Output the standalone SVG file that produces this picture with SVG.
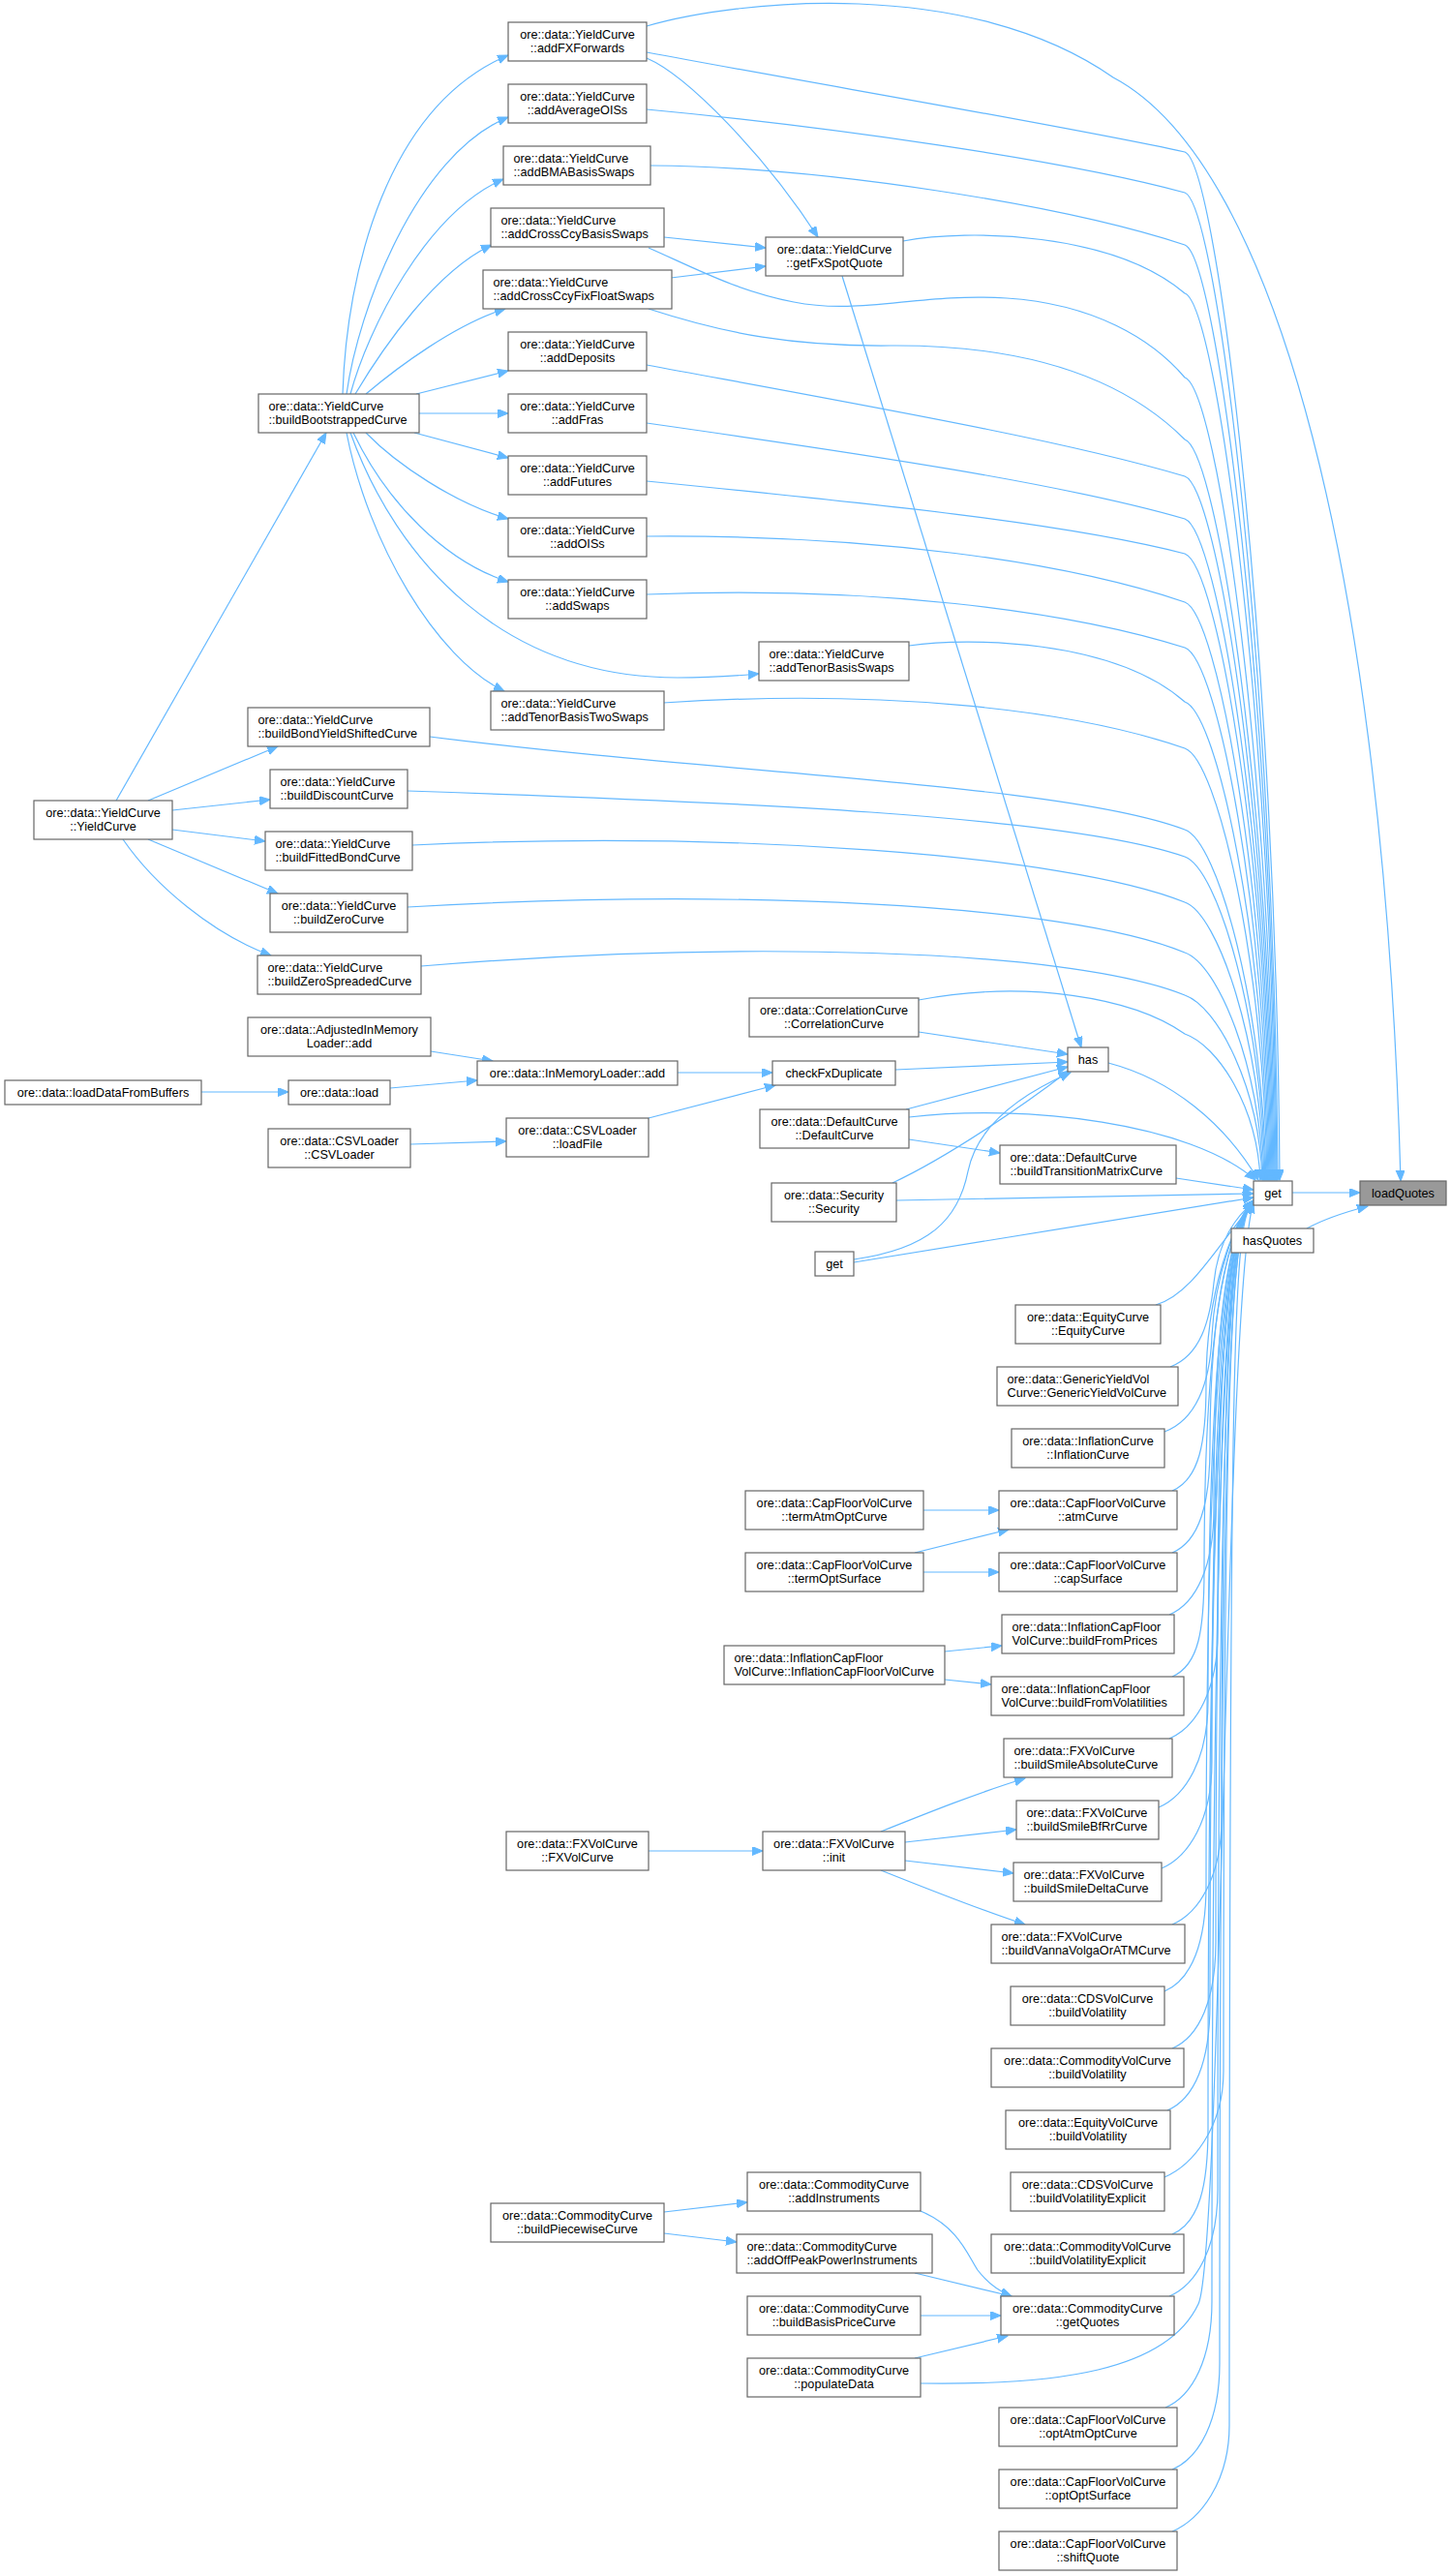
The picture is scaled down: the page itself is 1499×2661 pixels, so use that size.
<svg xmlns="http://www.w3.org/2000/svg" width="1499" height="2661" viewBox="0 0 1499 2661">
<defs>
<marker id="ah" markerUnits="userSpaceOnUse" markerWidth="12" markerHeight="10" refX="11" refY="4.5" orient="auto"><path d="M0,0L11,4.5L0,9z" fill="#63b8ff" stroke="#63b8ff" stroke-width="1"/></marker>
</defs>
<style>
.node rect{fill:#fff;stroke:#666;stroke-width:1.2}
#n_loadQuotes rect{fill:#999}
text{font-family:"Liberation Sans",Arial,Helvetica,sans-serif;font-size:12.7px;fill:#000}
.c text{text-anchor:middle}
.l text{text-anchor:start}
#edges path{fill:none;stroke:#63b8ff;stroke-width:1.2;marker-end:url(#ah)}
</style>
<rect x="0" y="0" width="1499" height="2661" fill="#fff"/>
<g id="edges">
<path d="M120 827L337 447"/>
<path d="M153 827L287 771"/>
<path d="M178 837L279 826"/>
<path d="M178 857L274 869"/>
<path d="M153 867L287 923"/>
<path d="M127 867C160 915 220 965 280 987"/>
<path d="M354 407C358 280 400 110 525 57"/>
<path d="M358 407C370 320 430 160 525 121"/>
<path d="M362 407C380 340 440 220 520 185"/>
<path d="M367 407C395 360 450 280 508 253"/>
<path d="M378 407C410 380 470 335 522 319"/>
<path d="M430 407L525 383"/>
<path d="M433 427L525 427"/>
<path d="M428 447L525 473"/>
<path d="M378 447C410 480 470 520 525 536"/>
<path d="M365 447C400 520 460 580 525 601"/>
<path d="M362 447C410 580 520 700 700 700C740 700 760 698 784 696"/>
<path d="M358 447C380 560 450 680 521 714"/>
<path d="M668 60C710 78 790 160 845 245"/>
<path d="M686 245L791 256"/>
<path d="M693 287L791 275"/>
<path d="M870 285L1117 1082"/>
<path d="M668 27C760 0 1000 -25 1150 80C1320 170 1430 600 1447 1220"/>
<path d="M668 54C850 88 1100 130 1224 157C1258 169 1319 688 1322 1219"/>
<path d="M668 113C850 130 1100 165 1224 199C1258 211 1317 709 1320 1219"/>
<path d="M672 171C850 172 1100 212 1224 253C1258 265 1316 736 1319 1219"/>
<path d="M933 249C1000 236 1150 240 1224 303C1258 315 1315 761 1318 1219"/>
<path d="M670 256C720 278 760 300 820 312C890 326 950 302 1040 308C1130 314 1190 350 1224 390C1258 402 1314 804 1317 1219"/>
<path d="M670 319C750 345 820 358 920 357C1060 356 1160 390 1224 454C1258 466 1313 836 1316 1219"/>
<path d="M668 377C900 420 1100 455 1224 492C1258 504 1312 855 1315 1219"/>
<path d="M668 437C900 470 1100 500 1224 536C1258 548 1311 877 1314 1219"/>
<path d="M668 497C900 520 1100 540 1224 572C1258 584 1310 895 1313 1219"/>
<path d="M668 554C900 552 1100 580 1224 622C1258 634 1309 920 1312 1219"/>
<path d="M668 614C900 605 1100 630 1224 669C1258 681 1308 944 1311 1219"/>
<path d="M939 667C1000 658 1150 660 1224 725C1258 737 1307 972 1310 1219"/>
<path d="M685 726C900 712 1100 730 1224 773C1258 785 1306 996 1309 1219"/>
<path d="M444 761C750 800 1100 810 1224 857C1258 869 1305 1038 1308 1219"/>
<path d="M421 817C750 828 1100 842 1224 885C1258 897 1304 1052 1307 1219"/>
<path d="M426 873C750 858 1100 882 1224 932C1258 944 1303 1075 1306 1219"/>
<path d="M421 937C750 918 1100 932 1224 984C1258 996 1302 1101 1305 1219"/>
<path d="M435 998C750 972 1100 978 1224 1028C1258 1040 1301 1123 1304 1219"/>
<path d="M949 1033C1060 1012 1170 1030 1224 1068C1258 1080 1299 1143 1302 1219"/>
<path d="M445 1086L509 1096"/>
<path d="M403 1124L493 1116"/>
<path d="M208 1128L298 1128"/>
<path d="M424 1182L523 1179"/>
<path d="M700 1108L798 1108"/>
<path d="M670 1155L801 1121"/>
<path d="M949 1066L1103 1089"/>
<path d="M925 1105L1103 1097"/>
<path d="M936 1146L1103 1102"/>
<path d="M922 1222C980 1195 1060 1140 1104 1106"/>
<path d="M882 1301C960 1290 990 1260 1000 1210C1010 1160 1060 1128 1106 1108"/>
<path d="M939 1177L1033 1191"/>
<path d="M1215 1217L1295 1229"/>
<path d="M926 1240L1295 1233"/>
<path d="M882 1304L1295 1237"/>
<path d="M1145 1098C1210 1115 1265 1160 1300 1219"/>
<path d="M939 1154C1060 1140 1230 1160 1297 1219"/>
<path d="M1335 1232L1405 1232"/>
<path d="M1350 1269C1370 1258 1390 1252 1413 1246"/>
<path d="M1194 1348C1230 1338 1255 1290 1295 1243"/>
<path d="M1209 1412C1240 1400 1250 1365 1254 1325C1258 1285 1275 1258 1295 1242"/>
<path d="M1203 1479C1235 1467 1250 1430 1252 1380C1255 1320 1275 1262 1295 1241"/>
<path d="M1211 1540C1239 1528 1246 1490 1246 1430C1246 1330 1275 1262 1295 1240"/>
<path d="M1211 1604C1239 1592 1250 1554 1250 1494C1250 1330 1275 1262 1295 1241"/>
<path d="M1208 1668C1236 1656 1254 1618 1254 1558C1254 1330 1275 1262 1295 1242"/>
<path d="M1211 1732C1239 1720 1244 1682 1244 1622C1244 1330 1275 1262 1295 1240"/>
<path d="M1208 1796C1236 1784 1258 1746 1258 1686C1258 1330 1275 1262 1295 1241"/>
<path d="M1197 1867C1225 1855 1248 1817 1248 1757C1248 1330 1275 1262 1295 1242"/>
<path d="M1200 1930C1228 1918 1252 1880 1252 1820C1252 1330 1275 1262 1295 1240"/>
<path d="M1211 1988C1239 1976 1262 1938 1262 1878C1262 1330 1275 1262 1295 1241"/>
<path d="M1203 2057C1231 2045 1246 2007 1246 1947C1246 1330 1275 1262 1295 1242"/>
<path d="M1211 2116C1239 2104 1256 2066 1256 2006C1256 1330 1275 1262 1295 1240"/>
<path d="M1206 2180C1234 2168 1250 2130 1250 2070C1250 1330 1275 1262 1295 1241"/>
<path d="M1203 2249C1231 2237 1264 2199 1264 2139C1264 1330 1275 1262 1295 1242"/>
<path d="M1211 2308C1239 2296 1248 2258 1248 2198C1248 1330 1275 1262 1295 1240"/>
<path d="M1208 2372C1236 2360 1258 2322 1258 2262C1258 1330 1275 1262 1295 1241"/>
<path d="M951 2462C1090 2464 1205 2450 1238 2380C1262 2330 1266 1330 1295 1242"/>
<path d="M1204 2487C1232 2475 1252 2437 1252 2377C1252 1330 1275 1262 1295 1240"/>
<path d="M1211 2551C1239 2539 1260 2501 1260 2441C1260 1330 1275 1262 1295 1241"/>
<path d="M1211 2615C1239 2603 1270 2565 1270 2505C1270 1330 1275 1262 1295 1242"/>
<path d="M954 1560L1032 1560"/>
<path d="M945 1604L1042 1580"/>
<path d="M954 1624L1032 1624"/>
<path d="M976 1706L1035 1700"/>
<path d="M976 1735L1024 1740"/>
<path d="M670 1912L788 1912"/>
<path d="M910 1892C960 1872 1010 1852 1059 1837"/>
<path d="M935 1903L1050 1890"/>
<path d="M935 1922L1047 1935"/>
<path d="M910 1932C960 1952 1010 1972 1059 1988"/>
<path d="M686 2285L772 2275"/>
<path d="M686 2307L761 2316"/>
<path d="M951 2284C990 2300 1000 2330 1010 2345C1020 2358 1030 2366 1045 2372"/>
<path d="M945 2348L1045 2372"/>
<path d="M951 2392L1034 2392"/>
<path d="M945 2436L1041 2413"/>
</g>
<g id="n_addFXForwards" class="node c"><rect x="525" y="23" width="143" height="40"/><text x="596.5" y="39.8">ore::data::YieldCurve</text><text x="596.5" y="54.2">::addFXForwards</text></g>
<g id="n_addAverageOISs" class="node c"><rect x="525" y="87" width="143" height="40"/><text x="596.5" y="103.8">ore::data::YieldCurve</text><text x="596.5" y="118.2">::addAverageOISs</text></g>
<g id="n_addBMABasisSwaps" class="node l"><rect x="520" y="151" width="152" height="40"/><text x="530.5" y="167.8">ore::data::YieldCurve</text><text x="530.5" y="182.2">::addBMABasisSwaps</text></g>
<g id="n_addCrossCcyBasisSwaps" class="node l"><rect x="507" y="215" width="179" height="40"/><text x="517.5" y="231.8">ore::data::YieldCurve</text><text x="517.5" y="246.2">::addCrossCcyBasisSwaps</text></g>
<g id="n_addCrossCcyFixFloatSwaps" class="node l"><rect x="499" y="279" width="195" height="40"/><text x="509.5" y="295.8">ore::data::YieldCurve</text><text x="509.5" y="310.2">::addCrossCcyFixFloatSwaps</text></g>
<g id="n_addDeposits" class="node c"><rect x="525" y="343" width="143" height="40"/><text x="596.5" y="359.8">ore::data::YieldCurve</text><text x="596.5" y="374.2">::addDeposits</text></g>
<g id="n_addFras" class="node c"><rect x="525" y="407" width="143" height="40"/><text x="596.5" y="423.8">ore::data::YieldCurve</text><text x="596.5" y="438.2">::addFras</text></g>
<g id="n_addFutures" class="node c"><rect x="525" y="471" width="143" height="40"/><text x="596.5" y="487.8">ore::data::YieldCurve</text><text x="596.5" y="502.2">::addFutures</text></g>
<g id="n_addOISs" class="node c"><rect x="525" y="535" width="143" height="40"/><text x="596.5" y="551.8">ore::data::YieldCurve</text><text x="596.5" y="566.2">::addOISs</text></g>
<g id="n_addSwaps" class="node c"><rect x="525" y="599" width="143" height="40"/><text x="596.5" y="615.8">ore::data::YieldCurve</text><text x="596.5" y="630.2">::addSwaps</text></g>
<g id="n_addTenorBasisTwoSwaps" class="node l"><rect x="507" y="714" width="179" height="40"/><text x="517.5" y="730.8">ore::data::YieldCurve</text><text x="517.5" y="745.2">::addTenorBasisTwoSwaps</text></g>
<g id="n_buildBootstrappedCurve" class="node l"><rect x="267" y="407" width="166" height="40"/><text x="277.5" y="423.8">ore::data::YieldCurve</text><text x="277.5" y="438.2">::buildBootstrappedCurve</text></g>
<g id="n_getFxSpotQuote" class="node c"><rect x="791" y="245" width="142" height="40"/><text x="862" y="261.8">ore::data::YieldCurve</text><text x="862" y="276.2">::getFxSpotQuote</text></g>
<g id="n_addTenorBasisSwaps" class="node l"><rect x="784" y="663" width="155" height="40"/><text x="794.5" y="679.8">ore::data::YieldCurve</text><text x="794.5" y="694.2">::addTenorBasisSwaps</text></g>
<g id="n_buildBondYieldShiftedCurve" class="node l"><rect x="256" y="731" width="188" height="40"/><text x="266.5" y="747.8">ore::data::YieldCurve</text><text x="266.5" y="762.2">::buildBondYieldShiftedCurve</text></g>
<g id="n_buildDiscountCurve" class="node l"><rect x="279" y="795" width="142" height="40"/><text x="289.5" y="811.8">ore::data::YieldCurve</text><text x="289.5" y="826.2">::buildDiscountCurve</text></g>
<g id="n_YieldCurve" class="node c"><rect x="35" y="827" width="143" height="40"/><text x="106.5" y="843.8">ore::data::YieldCurve</text><text x="106.5" y="858.2">::YieldCurve</text></g>
<g id="n_buildFittedBondCurve" class="node l"><rect x="274" y="859" width="152" height="40"/><text x="284.5" y="875.8">ore::data::YieldCurve</text><text x="284.5" y="890.2">::buildFittedBondCurve</text></g>
<g id="n_buildZeroCurve" class="node c"><rect x="279" y="923" width="142" height="40"/><text x="350" y="939.8">ore::data::YieldCurve</text><text x="350" y="954.2">::buildZeroCurve</text></g>
<g id="n_buildZeroSpreadedCurve" class="node l"><rect x="266" y="987" width="169" height="40"/><text x="276.5" y="1003.8">ore::data::YieldCurve</text><text x="276.5" y="1018.2">::buildZeroSpreadedCurve</text></g>
<g id="n_AdjustedInMemoryLoader" class="node c"><rect x="256" y="1051" width="189" height="40"/><text x="350.5" y="1067.8">ore::data::AdjustedInMemory</text><text x="350.5" y="1082.2">Loader::add</text></g>
<g id="n_InMemoryLoader" class="node c"><rect x="493" y="1096" width="207" height="25"/><text x="596.5" y="1113">ore::data::InMemoryLoader::add</text></g>
<g id="n_loadDataFromBuffers" class="node c"><rect x="5" y="1116" width="203" height="25"/><text x="106.5" y="1133">ore::data::loadDataFromBuffers</text></g>
<g id="n_load" class="node c"><rect x="298" y="1116" width="105" height="25"/><text x="350.5" y="1133">ore::data::load</text></g>
<g id="n_CSVLoader" class="node c"><rect x="277" y="1166" width="147" height="40"/><text x="350.5" y="1182.8">ore::data::CSVLoader</text><text x="350.5" y="1197.2">::CSVLoader</text></g>
<g id="n_loadFile" class="node c"><rect x="523" y="1155" width="147" height="40"/><text x="596.5" y="1171.8">ore::data::CSVLoader</text><text x="596.5" y="1186.2">::loadFile</text></g>
<g id="n_CorrelationCurve" class="node c"><rect x="774" y="1031" width="175" height="40"/><text x="861.5" y="1047.8">ore::data::CorrelationCurve</text><text x="861.5" y="1062.2">::CorrelationCurve</text></g>
<g id="n_checkFxDuplicate" class="node c"><rect x="798" y="1096" width="127" height="25"/><text x="861.5" y="1113">checkFxDuplicate</text></g>
<g id="n_has" class="node c"><rect x="1103" y="1082" width="42" height="25"/><text x="1124" y="1099">has</text></g>
<g id="n_DefaultCurve" class="node c"><rect x="785" y="1146" width="154" height="40"/><text x="862" y="1162.8">ore::data::DefaultCurve</text><text x="862" y="1177.2">::DefaultCurve</text></g>
<g id="n_buildTransitionMatrixCurve" class="node l"><rect x="1033" y="1183" width="182" height="40"/><text x="1043.5" y="1199.8">ore::data::DefaultCurve</text><text x="1043.5" y="1214.2">::buildTransitionMatrixCurve</text></g>
<g id="n_get" class="node c"><rect x="1295" y="1220" width="40" height="25"/><text x="1315" y="1237">get</text></g>
<g id="n_loadQuotes" class="node c"><rect x="1405" y="1220" width="89" height="25"/><text x="1449.5" y="1237">loadQuotes</text></g>
<g id="n_hasQuotes" class="node c"><rect x="1272" y="1269" width="85" height="25"/><text x="1314.5" y="1286">hasQuotes</text></g>
<g id="n_Security" class="node c"><rect x="797" y="1222" width="129" height="40"/><text x="861.5" y="1238.8">ore::data::Security</text><text x="861.5" y="1253.2">::Security</text></g>
<g id="n_get2" class="node c"><rect x="842" y="1293" width="40" height="25"/><text x="862" y="1310">get</text></g>
<g id="n_EquityCurve" class="node c"><rect x="1049" y="1348" width="150" height="40"/><text x="1124" y="1364.8">ore::data::EquityCurve</text><text x="1124" y="1379.2">::EquityCurve</text></g>
<g id="n_GenericYieldVolCurve" class="node l"><rect x="1030" y="1412" width="187" height="40"/><text x="1040.5" y="1428.8">ore::data::GenericYieldVol</text><text x="1040.5" y="1443.2">Curve::GenericYieldVolCurve</text></g>
<g id="n_InflationCurve" class="node c"><rect x="1045" y="1476" width="158" height="40"/><text x="1124" y="1492.8">ore::data::InflationCurve</text><text x="1124" y="1507.2">::InflationCurve</text></g>
<g id="n_atmCurve" class="node c"><rect x="1032" y="1540" width="184" height="40"/><text x="1124" y="1556.8">ore::data::CapFloorVolCurve</text><text x="1124" y="1571.2">::atmCurve</text></g>
<g id="n_termAtmOptCurve" class="node c"><rect x="770" y="1540" width="184" height="40"/><text x="862" y="1556.8">ore::data::CapFloorVolCurve</text><text x="862" y="1571.2">::termAtmOptCurve</text></g>
<g id="n_termOptSurface" class="node c"><rect x="770" y="1604" width="184" height="40"/><text x="862" y="1620.8">ore::data::CapFloorVolCurve</text><text x="862" y="1635.2">::termOptSurface</text></g>
<g id="n_capSurface" class="node c"><rect x="1032" y="1604" width="184" height="40"/><text x="1124" y="1620.8">ore::data::CapFloorVolCurve</text><text x="1124" y="1635.2">::capSurface</text></g>
<g id="n_buildFromPrices" class="node l"><rect x="1035" y="1668" width="178" height="40"/><text x="1045.5" y="1684.8">ore::data::InflationCapFloor</text><text x="1045.5" y="1699.2">VolCurve::buildFromPrices</text></g>
<g id="n_InflationCapFloorVolCurve" class="node l"><rect x="748" y="1700" width="228" height="40"/><text x="758.5" y="1716.8">ore::data::InflationCapFloor</text><text x="758.5" y="1731.2">VolCurve::InflationCapFloorVolCurve</text></g>
<g id="n_buildFromVolatilities" class="node l"><rect x="1024" y="1732" width="199" height="40"/><text x="1034.5" y="1748.8">ore::data::InflationCapFloor</text><text x="1034.5" y="1763.2">VolCurve::buildFromVolatilities</text></g>
<g id="n_buildSmileAbsoluteCurve" class="node l"><rect x="1037" y="1796" width="174" height="40"/><text x="1047.5" y="1812.8">ore::data::FXVolCurve</text><text x="1047.5" y="1827.2">::buildSmileAbsoluteCurve</text></g>
<g id="n_buildSmileBfRrCurve" class="node l"><rect x="1050" y="1860" width="147" height="40"/><text x="1060.5" y="1876.8">ore::data::FXVolCurve</text><text x="1060.5" y="1891.2">::buildSmileBfRrCurve</text></g>
<g id="n_init" class="node c"><rect x="788" y="1892" width="147" height="40"/><text x="861.5" y="1908.8">ore::data::FXVolCurve</text><text x="861.5" y="1923.2">::init</text></g>
<g id="n_FXVolCurve" class="node c"><rect x="523" y="1892" width="147" height="40"/><text x="596.5" y="1908.8">ore::data::FXVolCurve</text><text x="596.5" y="1923.2">::FXVolCurve</text></g>
<g id="n_buildSmileDeltaCurve" class="node l"><rect x="1047" y="1924" width="153" height="40"/><text x="1057.5" y="1940.8">ore::data::FXVolCurve</text><text x="1057.5" y="1955.2">::buildSmileDeltaCurve</text></g>
<g id="n_buildVannaVolgaOrATMCurve" class="node l"><rect x="1024" y="1988" width="200" height="40"/><text x="1034.5" y="2004.8">ore::data::FXVolCurve</text><text x="1034.5" y="2019.2">::buildVannaVolgaOrATMCurve</text></g>
<g id="n_CDSVolCurve_buildVolatility" class="node c"><rect x="1044" y="2052" width="159" height="40"/><text x="1123.5" y="2068.8">ore::data::CDSVolCurve</text><text x="1123.5" y="2083.2">::buildVolatility</text></g>
<g id="n_CommodityVolCurve_buildVolatility" class="node c"><rect x="1024" y="2116" width="199" height="40"/><text x="1123.5" y="2132.8">ore::data::CommodityVolCurve</text><text x="1123.5" y="2147.2">::buildVolatility</text></g>
<g id="n_EquityVolCurve_buildVolatility" class="node c"><rect x="1039" y="2180" width="170" height="40"/><text x="1124" y="2196.8">ore::data::EquityVolCurve</text><text x="1124" y="2211.2">::buildVolatility</text></g>
<g id="n_CDSVolCurve_buildVolatilityExplicit" class="node c"><rect x="1044" y="2244" width="159" height="40"/><text x="1123.5" y="2260.8">ore::data::CDSVolCurve</text><text x="1123.5" y="2275.2">::buildVolatilityExplicit</text></g>
<g id="n_CommodityVolCurve_buildVolatilityExplicit" class="node c"><rect x="1024" y="2308" width="199" height="40"/><text x="1123.5" y="2324.8">ore::data::CommodityVolCurve</text><text x="1123.5" y="2339.2">::buildVolatilityExplicit</text></g>
<g id="n_getQuotes" class="node c"><rect x="1034" y="2372" width="179" height="40"/><text x="1123.5" y="2388.8">ore::data::CommodityCurve</text><text x="1123.5" y="2403.2">::getQuotes</text></g>
<g id="n_addInstruments" class="node c"><rect x="772" y="2244" width="179" height="40"/><text x="861.5" y="2260.8">ore::data::CommodityCurve</text><text x="861.5" y="2275.2">::addInstruments</text></g>
<g id="n_addOffPeakPowerInstruments" class="node l"><rect x="761" y="2308" width="202" height="40"/><text x="771.5" y="2324.8">ore::data::CommodityCurve</text><text x="771.5" y="2339.2">::addOffPeakPowerInstruments</text></g>
<g id="n_buildBasisPriceCurve" class="node c"><rect x="772" y="2372" width="179" height="40"/><text x="861.5" y="2388.8">ore::data::CommodityCurve</text><text x="861.5" y="2403.2">::buildBasisPriceCurve</text></g>
<g id="n_populateData" class="node c"><rect x="772" y="2436" width="179" height="40"/><text x="861.5" y="2452.8">ore::data::CommodityCurve</text><text x="861.5" y="2467.2">::populateData</text></g>
<g id="n_buildPiecewiseCurve" class="node c"><rect x="507" y="2276" width="179" height="40"/><text x="596.5" y="2292.8">ore::data::CommodityCurve</text><text x="596.5" y="2307.2">::buildPiecewiseCurve</text></g>
<g id="n_optAtmOptCurve" class="node c"><rect x="1032" y="2487" width="184" height="40"/><text x="1124" y="2503.8">ore::data::CapFloorVolCurve</text><text x="1124" y="2518.2">::optAtmOptCurve</text></g>
<g id="n_optOptSurface" class="node c"><rect x="1032" y="2551" width="184" height="40"/><text x="1124" y="2567.8">ore::data::CapFloorVolCurve</text><text x="1124" y="2582.2">::optOptSurface</text></g>
<g id="n_shiftQuote" class="node c"><rect x="1032" y="2615" width="184" height="40"/><text x="1124" y="2631.8">ore::data::CapFloorVolCurve</text><text x="1124" y="2646.2">::shiftQuote</text></g>
</svg>
